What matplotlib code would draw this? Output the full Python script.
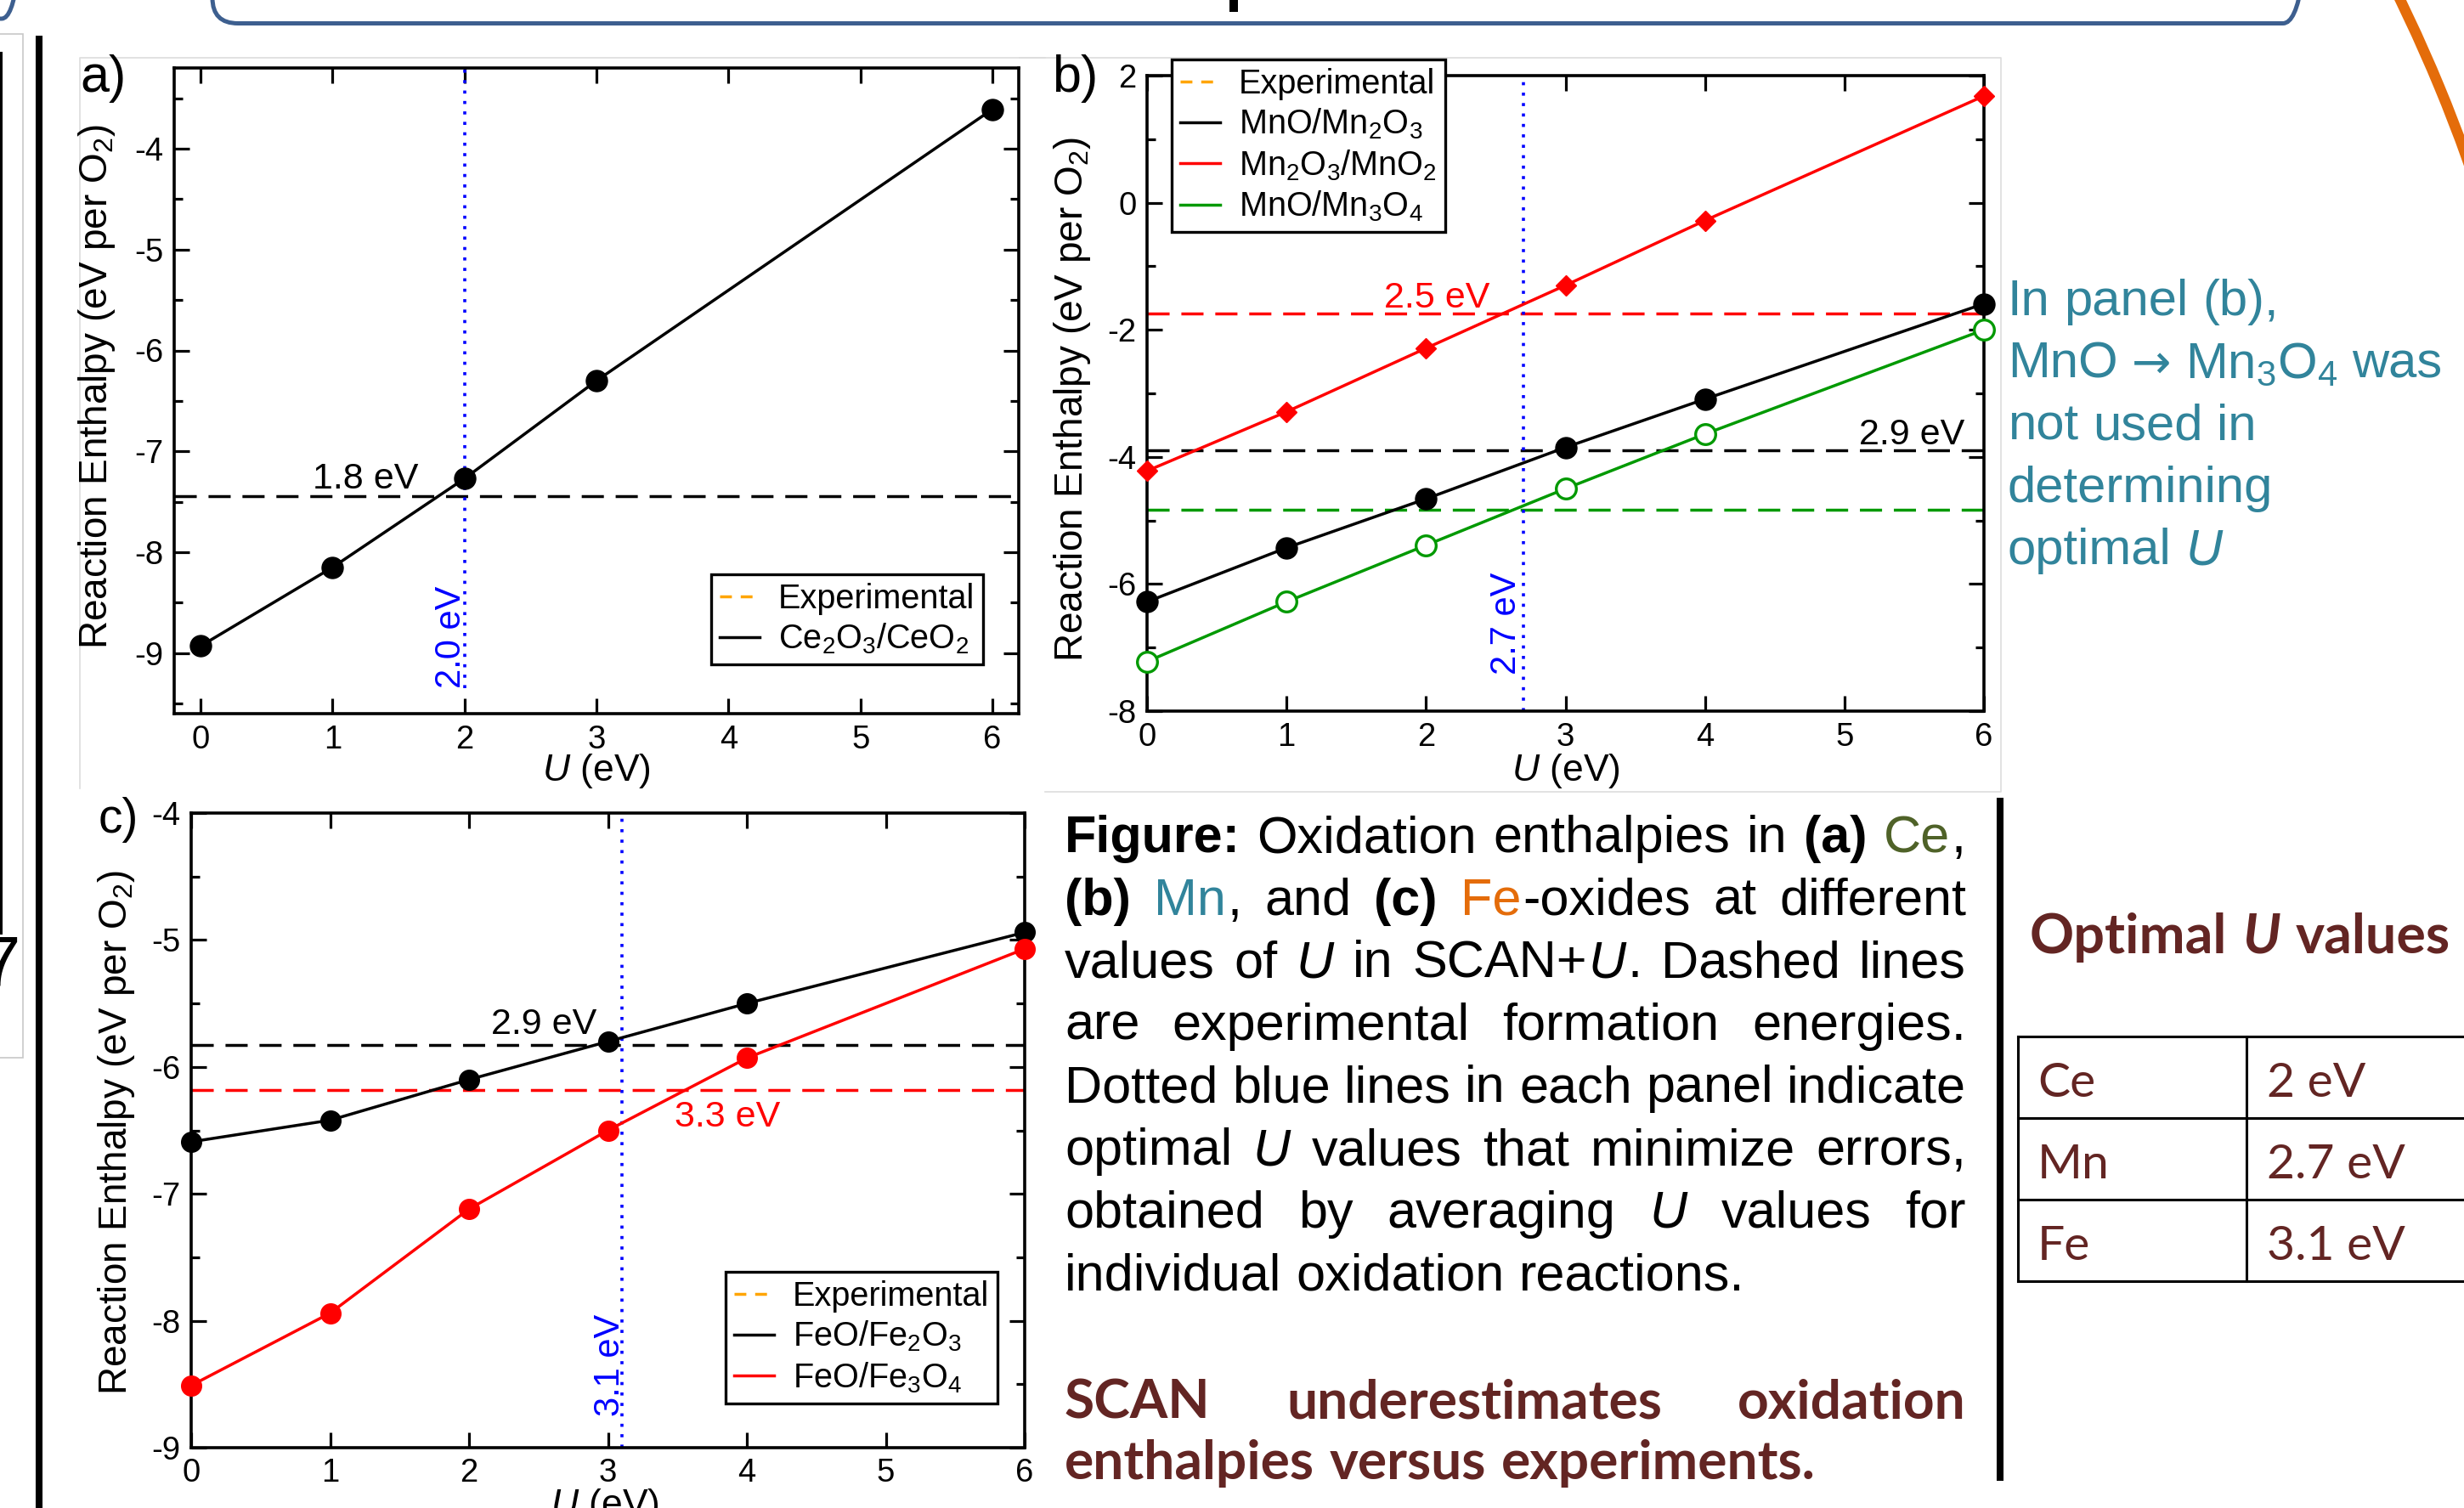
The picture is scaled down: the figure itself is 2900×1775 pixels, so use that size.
import matplotlib
matplotlib.use("Agg")
import matplotlib.pyplot as plt
from matplotlib.lines import Line2D
from matplotlib.patches import FancyBboxPatch, Rectangle, Arc
from matplotlib.ticker import MultipleLocator

plt.rcParams['font.family'] = ['Liberation Sans', 'DejaVu Sans']
plt.rcParams['mathtext.fontset'] = 'custom'
plt.rcParams['mathtext.rm'] = 'Liberation Sans'
plt.rcParams['mathtext.it'] = 'Liberation Sans:italic'
plt.rcParams['mathtext.bf'] = 'Liberation Sans:bold'
plt.rcParams['axes.unicode_minus'] = False

W, H = 2900, 1775

# panel a) Ce oxides
u_ce = [0, 1, 2, 3, 6]
ce2o3_ceo2 = [-8.93, -8.15, -7.27, -6.30, -3.61]
exp_ce2o3_ceo2 = -7.44
opt_u_ce = 2.0

# panel b) Mn oxides
u_mn = [0, 1, 2, 3, 4, 6]
mno_mn2o3 = [-6.28, -5.43, -4.66, -3.85, -3.09, -1.59]
mn2o3_mno2 = [-4.22, -3.29, -2.29, -1.30, -0.28, 1.68]
mno_mn3o4 = [-7.22, -6.28, -5.39, -4.50, -3.64, -2.00]
exp_mno_mn2o3 = -3.90
exp_mn2o3_mno2 = -1.74
exp_mno_mn3o4 = -4.83
opt_u_mn = 2.7

# panel c) Fe oxides
u_fe = [0, 1, 2, 3, 4, 6]
feo_fe2o3 = [-6.59, -6.42, -6.10, -5.80, -5.50, -4.94]
feo_fe3o4 = [-8.51, -7.94, -7.12, -6.50, -5.93, -5.07]
exp_feo_fe2o3 = -5.83
exp_feo_fe3o4 = -6.18
opt_u_fe = 3.1

# table on the right
elements = ['Ce', 'Mn', 'Fe']
optimal_u = ['2 eV', '2.7 eV', '3.1 eV']

DARKRED = '#632523'
TEAL = '#31849B'
BLUE = '#0000FF'
GREEN = '#009900'
LW = 2.5
DASH = (0, (7.5, 4))
DOT = (0, (1, 2.4))

fig = plt.figure(figsize=(W / 100, H / 100), dpi=100)
fig.patch.set_facecolor('white')

# overlay in pixel coordinates for the slide decorations and text
ov = fig.add_axes([0, 0, 1, 1])
ov.set_xlim(0, W)
ov.set_ylim(H, 0)
ov.axis('off')
ov.patch.set_visible(False)


def px_axes(l, t, r, b):
    return fig.add_axes([l / W, 1 - b / H, (r - l) / W, (b - t) / H])


def style(ax, ymaj, ymin):
    for s in ax.spines.values():
        s.set_linewidth(2.6)
    ax.xaxis.set_major_locator(MultipleLocator(1))
    ax.yaxis.set_major_locator(MultipleLocator(ymaj))
    ax.yaxis.set_minor_locator(MultipleLocator(ymin))
    ax.tick_params(which='both', direction='in', top=True, right=True,
                   width=2.3, labelsize=27.5, pad=9)
    ax.tick_params(which='major', length=13)
    ax.tick_params(which='minor', length=7)


def legend(ax, handles, labels, loc, anchor):
    leg = ax.legend(handles, labels, loc=loc, bbox_to_anchor=(anchor[0] / W, 1 - anchor[1] / H),
                    bbox_transform=fig.transFigure, fontsize=28.5, fancybox=False,
                    edgecolor='k', framealpha=1, borderaxespad=0, handlelength=1.2,
                    handletextpad=0.55, borderpad=0.25, labelspacing=0.2)
    leg.get_frame().set_linewidth(2.4)
    leg.set_zorder(10)


exp_handle = Line2D([], [], color='orange', lw=LW, ls=(0, (4, 3)))
ylabel = 'Reaction Enthalpy (eV per O$_2$)'

# ---------- panel a ----------
axa = px_axes(205, 80, 1199, 840)
style(axa, 1, 0.5)
axa.set_xlim(-0.2, 6.2)
axa.set_ylim(-9.6, -3.2)
axa.axhline(exp_ce2o3_ceo2, color='k', lw=LW, ls=DASH)
axa.axvline(opt_u_ce, ymin=0.04, color=BLUE, lw=2.6, ls=DOT)
axa.plot(u_ce, ce2o3_ceo2, '-o', color='k', lw=LW, ms=18, clip_on=False, zorder=4)
axa.text(1.65, -7.37, '1.8 eV', ha='right', va='baseline', fontsize=31)
axa.text(opt_u_ce + 0.03, -9.35, '2.0 eV', rotation=90, ha='right', va='bottom',
         color=BLUE, fontsize=30)
legend(axa, [exp_handle, Line2D([], [], color='k', lw=LW)],
       ['Experimental', 'Ce$_2$O$_3$/CeO$_2$'], 'upper right', (1157, 676))

# ---------- panel b ----------
axb = px_axes(1350, 89, 2335, 837)
style(axb, 2, 1)
axb.set_xlim(0, 6)
axb.set_ylim(-8, 2)
axb.axhline(exp_mn2o3_mno2, color='red', lw=LW, ls=DASH)
axb.axhline(exp_mno_mn2o3, color='k', lw=LW, ls=DASH)
axb.axhline(exp_mno_mn3o4, color=GREEN, lw=LW, ls=DASH)
axb.axvline(opt_u_mn, color=BLUE, lw=2.6, ls=DOT)
axb.plot(u_mn, mn2o3_mno2, '-D', color='red', lw=LW, ms=12, clip_on=False, zorder=4)
axb.plot(u_mn, mno_mn2o3, '-o', color='k', lw=LW, ms=18, clip_on=False, zorder=4)
axb.plot(u_mn, mno_mn3o4, '-o', color=GREEN, lw=LW, ms=17, mfc='white', mew=2.4,
         clip_on=False, zorder=4)
axb.text(2.46, -1.645, '2.5 eV', ha='right', va='baseline', fontsize=31, color='red')
axb.text(5.86, -3.80, '2.9 eV', ha='right', va='baseline', fontsize=31)
axb.text(opt_u_mn, -7.43, '2.7 eV', rotation=90, ha='right', va='bottom',
         color=BLUE, fontsize=30)
legend(axb, [exp_handle, Line2D([], [], color='k', lw=LW),
             Line2D([], [], color='red', lw=LW), Line2D([], [], color=GREEN, lw=LW)],
       ['Experimental', 'MnO/Mn$_2$O$_3$', 'Mn$_2$O$_3$/MnO$_2$', 'MnO/Mn$_3$O$_4$'],
       'upper left', (1379, 70))

# ---------- panel c ----------
axc = px_axes(225, 957, 1206, 1704)
style(axc, 1, 0.5)
axc.set_xlim(0, 6)
axc.set_ylim(-9, -4)
axc.axhline(exp_feo_fe2o3, color='k', lw=LW, ls=DASH)
axc.axhline(exp_feo_fe3o4, color='red', lw=LW, ls=DASH)
axc.axvline(opt_u_fe, color=BLUE, lw=2.6, ls=DOT)
axc.plot(u_fe, feo_fe2o3, '-o', color='k', lw=LW, ms=17, clip_on=False, zorder=4)
axc.plot(u_fe, feo_fe3o4, '-o', color='red', lw=LW, ms=17, clip_on=False, zorder=4)
axc.text(2.92, -5.74, '2.9 eV', ha='right', va='baseline', fontsize=31)
axc.text(4.24, -6.47, '3.3 eV', ha='right', va='baseline', fontsize=31, color='red')
axc.text(opt_u_fe + 0.04, -8.75, '3.1 eV', rotation=90, ha='right', va='bottom',
         color=BLUE, fontsize=30)
legend(axc, [exp_handle, Line2D([], [], color='k', lw=LW),
             Line2D([], [], color='red', lw=LW)],
       ['Experimental', 'FeO/Fe$_2$O$_3$', 'FeO/Fe$_3$O$_4$'], 'upper right', (1174, 1497))

# axis labels and panel letters
for x, y in [(114, 455), (1262, 470), (137, 1333)]:
    ov.text(x, y, ylabel, rotation=90, ha='center', va='center', fontsize=33)
ov.text(702, 907, '$U$ (eV)', ha='center', va='center', fontsize=32)
ov.text(1843, 907, '$U$ (eV)', ha='center', va='center', fontsize=32)
ov.text(712, 1750, '$U$ (eV)', ha='center', va='top', fontsize=32)
ov.text(94, 64, 'a)', ha='left', va='top', fontsize=44)
ov.text(1238, 64, 'b)', ha='left', va='top', fontsize=44)
ov.text(116, 938, 'c)', ha='left', va='top', fontsize=41)

# ---------- slide decorations ----------
ov.add_patch(FancyBboxPatch((250, -200), 2467, 227.5, boxstyle='round,pad=0,rounding_size=30',
                            fc='none', ec='#3D5F8F', lw=3.6))
ov.add_patch(FancyBboxPatch((-200, -200), 227, 222, boxstyle='round,pad=0,rounding_size=25',
                            fc='none', ec='#3D5F8F', lw=3.6))
ov.add_patch(Rectangle((1447, 0), 10, 14, fc='k', ec='none'))
ov.add_patch(Arc((1140, 819), 3747, 3747, theta1=-28, theta2=-17, color='#E46C0A', lw=9))
ov.add_patch(Rectangle((-10, 40), 37, 1205, fc='none', ec='#C8C8C8', lw=1.2))
ov.plot([1.5, 1.5], [62, 1098], color='k', lw=2.2)
ov.text(24, 1160, '7', ha='right', va='baseline', fontsize=60)
ov.plot([46, 46], [42, H + 5], color='k', lw=5.8, solid_capstyle='butt')
ov.plot([2354.5, 2354.5], [939, 1743], color='k', lw=5.8, solid_capstyle='butt')
grey = dict(color='#DDDDDD', lw=1.2)
ov.plot([94, 94, 1230], [928, 68, 68], **grey)
ov.plot([1200, 2355, 2355, 1230], [68, 68, 932, 932], **grey)

# ---------- text blocks ----------
renderer = fig.canvas.get_renderer()


def text_w(s, **kw):
    t = ov.text(0, 0, s, **kw)
    w = t.get_window_extent(renderer).width
    t.remove()
    return w


def draw_line(words, x0, x1, y, justify, base, styles):
    # words: list of str or list of (text, style) segments
    segs = [[(w, '')] if isinstance(w, str) else w for w in words]
    widths = [[text_w(s, **{**base, **styles[k]}) for s, k in wd] for wd in segs]
    totals = [sum(ws) + 2 * (len(ws) - 1) for ws in widths]
    space = 0.278 * base['fontsize'] * 100 / 72
    if justify and len(segs) > 1:
        gap = (x1 - x0 - sum(totals)) / (len(segs) - 1)
    else:
        gap = space
    x = x0
    for wd, ws in zip(segs, widths):
        for (s, k), w in zip(wd, ws):
            ov.text(x, y, s, ha='left', va='baseline', **{**base, **styles[k]})
            x += w + 2
        x += gap - 2


cap_styles = {'': {}, 'b': {'fontweight': 'bold'}, 'i': {'fontstyle': 'italic'},
              'ce': {'color': '#4F6228'}, 'mn': {'color': TEAL}, 'fe': {'color': '#E46C0A'}}
U = [('U', 'i')]
caption = [
    [[('Figure:', 'b')], 'Oxidation', 'enthalpies', 'in', [('(a)', 'b')], [('Ce', 'ce'), (',', '')]],
    [[('(b)', 'b')], [('Mn', 'mn'), (',', '')], 'and', [('(c)', 'b')], [('Fe', 'fe'), ('-oxides', '')],
     'at', 'different'],
    ['values', 'of', U, 'in', [('SCAN+', ''), ('U', 'i'), ('.', '')], 'Dashed', 'lines'],
    'are experimental formation energies.'.split(),
    'Dotted blue lines in each panel indicate'.split(),
    ['optimal', U, 'values', 'that', 'minimize', 'errors,'],
    ['obtained', 'by', 'averaging', U, 'values', 'for'],
    'individual oxidation reactions.'.split(),
]
cap_base = {'fontsize': 44, 'color': 'k', 'family': ['Liberation Sans', 'DejaVu Sans']}
for i, words in enumerate(caption):
    draw_line(words, 1253, 2314, 1003 + 73.6 * i, i < len(caption) - 1,
              cap_base, cap_styles)

# bold conclusion
gill = {'family': ['Lato', 'DejaVu Sans'], 'color': DARKRED}
fs = 40 * 880 / text_w('enthalpies versus experiments.', fontsize=40, fontweight='bold', **gill)
bold_styles = {'': {'fontweight': 'bold'}, 'bi': {'fontweight': 'bold', 'fontstyle': 'italic'}}
draw_line(['SCAN', 'underestimates', 'oxidation'], 1253, 2314, 1670, True,
          dict(fontsize=fs, **gill), bold_styles)
draw_line('enthalpies versus experiments.'.split(), 1253, 2314, 1741, False,
          dict(fontsize=fs, **gill), bold_styles)

# table of optimal U
fs_t = 40 * 494 / text_w('Optimal U values', fontsize=40, fontweight='bold', **gill)
draw_line(['Optimal', [('U', 'bi')], 'values'], 2389, 2900, 1122, False,
          dict(fontsize=fs_t, **gill), bold_styles)
for yl in [1220, 1316, 1412, 1508]:
    ov.plot([2375, W + 10], [yl, yl], color='k', lw=2.2)
ov.plot([2375, 2375], [1220, 1508], color='k', lw=2.2)
ov.plot([2644, 2644], [1220, 1508], color='k', lw=2.2)
for i, (el, val) in enumerate(zip(elements, optimal_u)):
    ov.text(2398, 1291 + 96 * i, el, ha='left', va='baseline', fontsize=41, **gill)
    ov.text(2668, 1291 + 96 * i, val, ha='left', va='baseline', fontsize=41, **gill)

# teal note
note_base = {'fontsize': 43, 'color': TEAL, 'family': ['Liberation Sans', 'DejaVu Sans']}
note_styles = {'': {}, 'arrow': {'family': ['DejaVu Sans'], 'fontsize': 40},
               'i': {'fontstyle': 'italic'}}
note = [
    ['In', 'panel', '(b),'],
    ['MnO', [('\u2192', 'arrow')], 'Mn$_3$O$_4$', 'was'],
    ['not', 'used', 'in'],
    ['determining'],
    ['optimal', [('U', 'i')]],
]
for i, words in enumerate(note):
    draw_line(words, 2363, 2900, 371 + 73.3 * i, False, note_base, note_styles)

fig.savefig('out.png', dpi=100)
